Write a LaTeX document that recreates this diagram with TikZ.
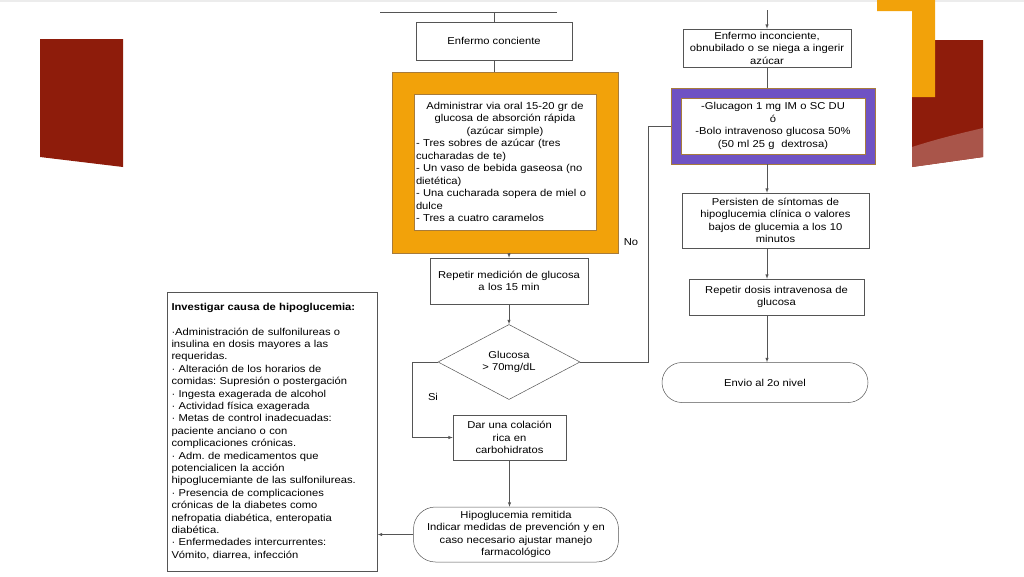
\documentclass[tikz,border=0pt]{standalone}
\usepackage{fontspec}
\setmainfont{Liberation Sans}[FakeStretch=1.12]
\usepackage{xcolor}
\usetikzlibrary{shapes, arrows, positioning}

\definecolor{slidered}{HTML}{8E1C0B}
\definecolor{slidepink}{HTML}{A9554A}
\definecolor{frameorange}{HTML}{F2A20A}
\definecolor{framepurple}{HTML}{6F52C3}
\definecolor{framebrown}{HTML}{A77B3B}
\definecolor{linegray}{HTML}{555555}

\begin{document}
\frenchspacing
\begin{tikzpicture}[x=1pt, y=-1pt, >=latex, line width=0.5pt]
\tikzstyle{block} = [rectangle, draw=linegray, fill=white, inner sep=2pt, align=center, font=\fontsize{10}{12.5}\selectfont]
\tikzstyle{frame} = [rectangle, draw=framebrown, line width=0.8pt, inner sep=0pt]
\tikzstyle{terminal} = [block, rounded corners=22pt]
\tikzstyle{lbl} = [inner sep=1pt, font=\fontsize{10}{12.5}\selectfont]
\tikzstyle{arrow} = [->, draw=linegray]
\tikzstyle{line} = [draw=linegray]

\useasboundingbox (0,0) rectangle (1024,576);

% slide decoration
\fill[gray!15] (0,0) rectangle (1024,2);
\fill[slidered] (40,39) -- (123,39) -- (123,167) -- (40,157) -- cycle;
\fill[slidered] (912,40) -- (983,40) -- (983,157) -- (912,167) -- cycle;
\fill[slidepink] (912,147) .. controls (940,138) and (962,133) .. (983,128) -- (983,157) -- (912,167) -- cycle;
\fill[frameorange] (877,0) -- (935,0) -- (935,97) -- (912,97) -- (912,11) -- (877,11) -- cycle;

% conscious patient
\coordinate (barL) at (380,12);
\coordinate (barR) at (557,12);
\coordinate (topL) at (494,12);
\node[block, minimum width=156pt, minimum height=38pt] (conc) at (494,41) {Enfermo conciente};
\node[frame, fill=frameorange, minimum width=226pt, minimum height=181pt] (oralframe) at (505,162.5) {};
\node[block, draw=framebrown, text width=178pt, minimum height=136pt, align=left] (oral) at (505,162) {%
{\centering Administrar via oral 15-20 gr de\\glucosa de absorción rápida\\(azúcar simple)\par}
- Tres sobres de azúcar (tres\\cucharadas de te)\\- Un vaso de bebida gaseosa (no\\dietética)\\- Una cucharada sopera de miel o\\dulce\\- Tres a cuatro caramelos};
\node[block, text width=154pt, minimum height=46pt] (rep) at (509,281) {Repetir medición de glucosa\\a los 15 min};
\node[diamond, draw=linegray, fill=white, minimum width=142pt, minimum height=64pt, inner sep=0pt, align=center, font=\fontsize{10}{12.5}\selectfont] (gl) at (509,362) {Glucosa\\> 70mg/dL};
\node[block, text width=109pt, minimum height=45pt] (dar) at (509.5,437.5) {Dar una colación\\rica en\\carbohidratos};
\node[terminal, text width=201pt, minimum height=55pt] (rem) at (516,534.5) {Hipoglucemia remitida\\Indicar medidas de prevención y en\\caso necesario ajustar manejo\\farmacológico};
\node[block, text width=202pt, inner sep=4pt, minimum height=279pt, align=left, font=\fontsize{10}{12.4}\selectfont] (inv) at (272.5,431.5) {%
\textbf{Investigar causa de hipoglucemia:}\\[12pt]
·Administración de sulfonilureas o\\insulina en dosis mayores a las\\requeridas.\\
· Alteración de los horarios de\\comidas: Supresión o postergación\\
· Ingesta exagerada de alcohol\\
· Actividad física exagerada\\
· Metas de control inadecuadas:\\paciente anciano o con\\complicaciones crónicas.\\
· Adm. de medicamentos que\\potencialicen la acción\\hipoglucemiante de las sulfonilureas.\\
· Presencia de complicaciones\\crónicas de la diabetes como\\nefropatia diabética, enteropatia\\diabética.\\
· Enfermedades intercurrentes:\\Vómito, diarrea, infección};
\node[lbl] (si) at (433,397) {Si};
\node[lbl] (no) at (631,242) {No};

% unconscious patient
\coordinate (topR) at (767,10);
\node[block, text width=166pt, inner sep=1pt, minimum height=38pt] (inc) at (767,48) {Enfermo inconciente,\\obnubilado o se niega a ingerir\\azúcar};
\node[frame, fill=framepurple, minimum width=204pt, minimum height=76pt] (glucframe) at (773,126) {};
\node[block, draw=framebrown, text width=180pt, minimum height=56pt] (gluc) at (773,126) {-Glucagon 1 mg IM o SC DU\\ó\\-Bolo intravenoso glucosa 50\%\\(50 ml 25 g\ \ dextrosa)};
\node[block, text width=183pt, minimum height=55pt] (pers) at (775.5,220.5) {Persisten de síntomas de\\hipoglucemia clínica o valores\\bajos de glucemia a los 10\\minutos};
\node[block, text width=171pt, minimum height=36pt] (repd) at (776.5,297) {Repetir dosis intravenosa de\\glucosa};
\node[terminal, minimum width=206pt, minimum height=40pt, rounded corners=20pt] (envio) at (765,382.5) {Envio al 2o nivel};

\draw[line] (barL) -- (barR);
\draw[line] (topL) -- (conc.north);
\draw[line] (conc.south) -- (conc.south |- oralframe.north);
\draw[arrow] (rep.north |- oralframe.south) -- (rep.north);
\draw[arrow] (rep.south) -- (gl.north);
\draw[arrow] (gl.west) -- ++(-26,0) |- (dar.west);
\draw[line] (gl.east) -- ++(68,0) |- (glucframe.west);
\draw[arrow] (dar.south) -- (dar.south |- rem.north);
\draw[arrow] (rem.west) -- (rem.west -| inv.east);

\draw[arrow] (topR) -- (inc.north);
\draw[line] (inc.south) -- (inc.south |- glucframe.north);
\draw[arrow] (inc.south |- glucframe.south) -- (inc.south |- pers.north);
\draw[arrow] (inc.south |- pers.south) -- (inc.south |- repd.north);
\draw[arrow] (inc.south |- repd.south) -- (inc.south |- envio.north);
\end{tikzpicture}
\end{document}
